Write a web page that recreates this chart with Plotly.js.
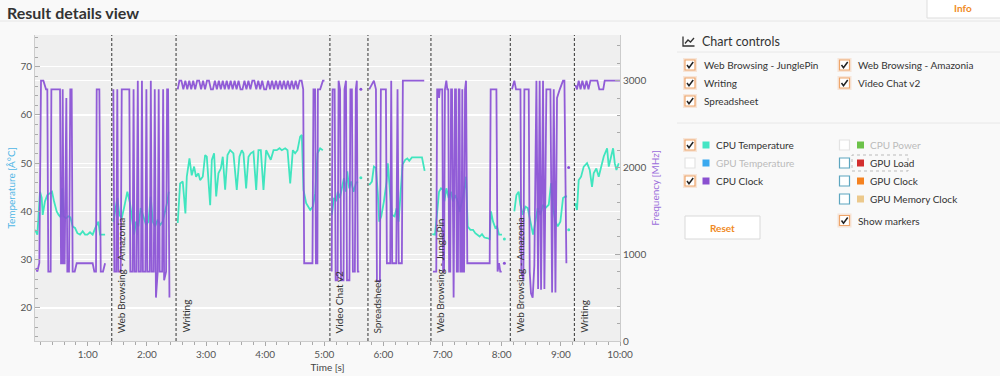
<!DOCTYPE html>
<html>
<head>
<meta charset="utf-8">
<script src="https://cdn.plot.ly/plotly-3.0.1.min.js"></script>
<style>
  html, body { margin: 0; padding: 0; background: #f9f9f9; }
  #chart { width: 1000px; height: 376px; }
</style>
</head>
<body>
<div id="chart"></div>
<script>
// ---------------- DATA (seconds, °C, MHz) ----------------
const xTickVals = [60, 120, 180, 240, 300, 360, 420, 480, 540, 600];
const xTickText = ['1:00', '2:00', '3:00', '4:00', '5:00', '6:00', '7:00', '8:00', '9:00', '10:00'];

const eventNames = ['Web Browsing - Amazonia', 'Writing', 'Video Chat v2', 'Spreadsheet',
                    'Web Browsing - JunglePin', 'Web Browsing - Amazonia', 'Writing'];
const eventTimes = [84.4, 149.6, 305.7, 344.3, 408.2, 488.7, 553.7];

// Web Browsing - JunglePin (1)
const jp1TempT = [6.5,8.9,11.6,13.3,14.3,16.6,19.0,21.7,23.8,25.8,28.5,30.5,32.5,34.2,35.3,38.0,40.3,42.4,44.7,47.1,49.5,52.2,54.9,57.3,59.6,62.3,65.0,67.7,70.8,72.5,77.6];
const jp1Temp  = [36.2,35.2,44.1,42.8,39.3,42.1,43.4,43.8,44.1,42.1,40.0,39.3,38.8,44.8,39.0,38.6,39.0,38.8,36.9,36.6,35.5,35.2,35.9,35.2,35.2,35.7,35.2,36.6,37.9,35.2,35.2];
const jp1ClockT = [7.5,8.9,10.9,12.6,15.0,16.3,17.7,19.0,20.0,22.4,23.1,31.9,32.9,33.9,34.6,35.6,36.6,38.3,39.3,41.0,42.3,43.7,44.7,46.8,48.8,65.0,66.7,68.4,69.1,71.8,73.2,75.5,77.6];
const jp1Clock  = [840,800,900,3000,3000,2950,2900,2900,800,800,2900,2900,896,896,2900,896,896,2800,800,800,2900,2900,800,800,896,896,800,800,2900,2900,800,800,896];

// Web Browsing - Amazonia (1)
const am1TempT = [86.0,88.0,90.1,92.1,94.5,96.8,100.2,102.9,105.6,107.0,109.0,111.4,113.8,116.5,119.2,121.6,123.9,125.9,128.3,131.0,133.4,136.1,138.5,140.8,142.2];
const am1Temp  = [37.9,40.7,42.8,39.3,38.6,40.7,44.1,41.7,37.9,35.2,37.9,36.9,40.7,39.0,37.2,37.9,43.1,37.9,36.9,38.3,37.2,37.9,40.0,42.1,44.1];
const am1ClockT = [86.0,87.0,89.0,90.0,91.0,93.5,94.5,102.2,103.2,105.5,106.5,107.5,109.5,110.8,111.8,114.0,115.0,116.0,118.5,119.5,120.5,123.0,124.0,125.0,127.0,128.0,129.2,131.0,132.0,133.0,135.5,136.5,137.5,139.5,140.5,141.5,142.9];
const am1Clock  = [2900,800,800,2900,800,800,2900,2900,800,800,2900,800,800,3000,800,800,3000,800,800,2900,800,800,3000,800,800,2900,500,800,2900,800,800,2900,700,800,2900,2900,500];

// Writing (1)
const wr1TempT = [151.3,153.7,156.4,159.1,160.5,163.2,165.5,167.9,169.9,172.3,174.0,176.7,179.1,180.8,184.2,185.9,188.2,190.3,192.6,195.0,197.0,199.4,201.8,204.5,207.8,211.2,213.9,216.3,218.0,220.7,223.1,225.4,228.1,230.9,233.2,235.6,238.3,241.0,243.4,245.7,248.5,251.8,254.6,256.9,260.3,262.7,265.4,268.1,270.4,272.8,275.5,277.2,278.9,281.6,285.7,288.4,290.8,293.1,295.8,298.5];
const wr1Temp  = [37.6,45.8,46.2,39.6,47.2,51.0,47.5,49.3,47.2,47.9,46.5,47.2,51.7,51.35,41.3,50.7,52.05,43.1,47.9,48.9,51.35,44.5,51.7,52.7,52.05,44.45,51.35,52.7,52.05,44.8,51.35,52.05,52.4,44.45,52.7,52.7,44.45,52.7,51.7,50.7,52.7,52.7,53.1,52.7,53.1,52.7,45.8,52.7,52.05,52.7,55.5,55.85,44.45,41.7,40.3,41.0,43.8,52.05,53.1,52.7];
const wr1ClockT = [151.3,153,155,157,159,161,163,165,167,169,171,173,175,177,179,181,183,185,187,189,191,193,195,197,199,201,203,205,207,209,211,213,215,217,219,221,223,225,227,229,231,233,235,237,239,241,243,245,247,249,251,253,255,257,259,261,263,265,267,269,271,273,275,277,278.6,279.6,288.0,289.0,290.7,291.5,293.0,293.5,295.8,298.6,300.2];
const wr1Clock  = [2900,3000,3000,2900,3000,2900,3000,2900,3000,2900,3000,3000,2900,3000,2900,3000,3000,2900,2900,3000,2900,3000,2900,3000,2900,3000,2900,3000,2900,3000,2900,3000,2900,2900,3000,2900,3000,2900,3000,3000,2900,3000,2900,3000,2900,2900,3000,2900,3000,2900,3000,2900,3000,2900,3000,2900,3000,2900,3000,2900,3000,2900,3000,3000,2900,896,896,2900,2900,896,896,2900,2900,3000,3000];

// Video Chat v2
const vcTempT = [307.7,309.7,311.8,313.8,315.8,317.8,319.9,321.9,323.3,325.3,327.3,329.7,332.1,334.1,335.6,337.1];
const vcTemp  = [39.3,42.8,42.1,44.1,42.8,45.2,46.9,44.1,48.3,44.8,46.2,44.1,45.9,46.2,null,47.0];
const vcClockT = [307.5,308.4,310.5,311.5,313.5,314.5,316.0,317.0,319.5,320.5,322.0,323.0,325.5,326.5,328.0,329.0,331.0,332.0,333.0,334.0,335.5,336.3,337.1];
const vcClock  = [800,2900,2900,700,700,3000,2900,700,700,2900,3000,700,700,2900,2900,800,800,2900,3000,800,800,null,2900];

// Spreadsheet
const ssTempT = [345.6,348.3,350.3,352.4,354.4,355.7,357.8,360.5,363.2,364.5,366.6,368.6,371.3,373.3,375.4,377.4,379.4,382.1,384.2,386.2,388.9,394.0,399.1,401.8];
const ssTemp  = [45.5,46.2,49.3,49.0,43.4,37.9,39.0,42.1,46.2,50.0,44.1,39.3,39.0,40.7,37.9,44.1,49.7,50.7,51.0,50.5,51.2,51.2,51.2,48.4];
const ssClockT = [345.6,348.3,350.3,352.4,353.4,356.4,357.4,362.5,363.5,366.9,367.9,368.9,373.0,374.3,375.5,378.7,379.7,401.4];
const ssClock  = [2900,2950,3000,2900,700,680,2900,2900,896,896,3000,896,896,2900,896,896,3000,3000];

// Web Browsing - JunglePin (2)
const jp2TempT = [409.6,412.3,414.3,416.4,418.4,420.4,421.8,423.8,426.2,428.5,430.6,432.9,435.3,437.3,439.7,441.7,443.8,445.5,448.2,450.9,453.2,455.6,457.6,460.0,462.4,465.1,467.8,469.1,471.2,473.5,475.2,477.3,480.3,481.5,482.7];
const jp2Temp  = [35.3,35.2,39.3,44.1,44.8,44.5,42.1,44.8,42.8,44.1,42.1,43.4,42.1,40.0,42.1,44.1,47.2,36.9,36.2,36.2,35.5,35.2,34.8,35.3,34.6,34.5,34.3,40.0,37.9,36.6,36.9,35.2,35.2,null,34.3];
const jp2ClockT = [410.3,413.6,414.5,415.8,416.4,417.2,419.7,420.5,421.5,422.4,423.8,424.8,425.8,426.6,427.8,428.6,429.6,431.2,432.6,433.6,434.4,435.6,436.4,437.2,438.0,439.2,440.0,440.8,441.8,442.8,443.8,445.1,467.8,468.8,474.6,475.8,477.3,478.5,480.0,481.5,482.7];
const jp2Clock  = [800,800,2900,2900,2800,2900,2900,800,800,2900,3000,2900,2900,800,800,2900,2900,500,2900,2900,800,800,2900,2900,800,800,2900,800,800,2900,3000,896,896,2900,2900,800,896,800,800,null,896];

// Web Browsing - Amazonia (2)
const am2TempT = [492.8,494.9,497.2,498.9,501.6,504.0,506.4,509.1,511.8,514.1,516.5,519.2,521.9,524.3,527.7,530.1,532.1,534.5,536.8,539.5,542.2,544.6,546.3,547.2,548.0];
const am2Temp  = [40.0,43.4,44.1,41.4,39.3,41.0,40.7,37.9,35.2,37.9,40.7,39.3,41.4,40.7,41.4,45.9,40.7,37.9,36.9,37.9,42.8,43.1,43.1,null,36.2];
const am2ClockT = [490.4,492.8,494.5,499.0,499.9,502.0,503.0,507.4,508.4,509.7,511.4,513.1,515.2,516.9,518.5,519.9,521.9,523.3,525.3,529.4,531.1,532.8,534.5,536.1,538.9,542.2,543.6,545.6,546.8,547.9];
const am2Clock  = [2900,3000,2900,2900,800,700,2900,2900,800,550,500,870,3000,600,3000,590,3000,600,2900,2900,560,2900,560,2800,2900,3000,3000,896,null,2000];

// Writing (2)
const wr2TempT = [554.7,556.4,558.1,560.5,563.2,566.6,569.3,571.6,573.3,576.0,578.4,581.8,583.5,586.9,588.6,591.0,593.0,594.7,596.4,598.7];
const wr2Temp  = [41.7,40.3,46.5,47.2,49.3,50.0,48.6,45.1,47.9,48.9,47.2,50.0,51.4,53.1,49.3,51.4,53.1,50.0,48.6,50.0];
const wr2ClockT = [554.7,556.4,558.1,560.0,561.8,564.0,566.0,568.0,570.0,572.0,574.0,577.0,579.0,583.0,584.5,600.0];
const wr2Clock  = [2950,2900,3000,2900,3000,2900,3000,2900,3000,3000,3000,3000,2900,2900,3000,3000];

// ---------------- BUILD ----------------
function joinSections(tArrs, vArrs) {
  const x = [], y = [];
  tArrs.forEach((ta, i) => {
    if (i > 0) { x.push(ta[0] - 1); y.push(null); }
    ta.forEach((t, j) => { x.push(t); y.push(vArrs[i][j]); });
  });
  return {x, y};
}
// single samples (no neighbours) are shown as markers
function isolated(s) {
  const x = [], y = [];
  s.y.forEach((v, i) => {
    if (v === null) return;
    const prev = i > 0 ? s.y[i - 1] : null, next = i < s.y.length - 1 ? s.y[i + 1] : null;
    if (prev === null && next === null) { x.push(s.x[i]); y.push(v); }
  });
  return {x, y};
}
const tempSeries = joinSections(
  [jp1TempT, am1TempT, wr1TempT, vcTempT, ssTempT, jp2TempT, am2TempT, wr2TempT],
  [jp1Temp, am1Temp, wr1Temp, vcTemp, ssTemp, jp2Temp, am2Temp, wr2Temp]);
const clockSeries = joinSections(
  [jp1ClockT, am1ClockT, wr1ClockT, vcClockT, ssClockT, jp2ClockT, am2ClockT, wr2ClockT],
  [jp1Clock, am1Clock, wr1Clock, vcClock, ssClock, jp2Clock, am2Clock, wr2Clock]);
const tempDots = isolated(tempSeries), clockDots = isolated(clockSeries);

const TEMP_COLOR = '#40e5bf';
const CLOCK_COLOR = '#8a50d6';

const traces = [
  { x: tempSeries.x, y: tempSeries.y, type: 'scatter', mode: 'lines', name: 'CPU Temperature',
    line: { color: TEMP_COLOR, width: 1.8 }, connectgaps: false, yaxis: 'y' },
  { x: tempDots.x, y: tempDots.y, type: 'scatter', mode: 'markers', name: 'CPU Temperature',
    marker: { size: 3, color: TEMP_COLOR }, yaxis: 'y' },
  { x: clockSeries.x, y: clockSeries.y, type: 'scatter', mode: 'lines', name: 'CPU Clock',
    line: { color: CLOCK_COLOR, width: 1.8 }, connectgaps: false, yaxis: 'y2', opacity: 0.92 },
  { x: clockDots.x, y: clockDots.y, type: 'scatter', mode: 'markers', name: 'CPU Clock',
    marker: { size: 3, color: CLOCK_COLOR }, yaxis: 'y2' }
];

// pixel -> paper helpers
const L = 35, R = 620, T = 35, B = 341;
const px = x => (x - L) / (R - L);
const py = y => (B - y) / (B - T);

const shapes = [];
const annotations = [];

// event lines + labels
eventTimes.forEach((t, i) => {
  shapes.push({ type: 'line', xref: 'x', yref: 'paper', x0: t, x1: t, y0: 0, y1: 1,
    line: { color: '#333', width: 1, dash: '3px,2px' }, layer: 'above' });
  annotations.push({ x: t, xref: 'x', y: 0, yref: 'paper', text: eventNames[i], textangle: -90,
    xanchor: 'left', yanchor: 'bottom', xshift: 1, yshift: 6, showarrow: false,
    font: { family: 'Lato, sans-serif', size: 10, color: '#333' } });
});

function label(x, y, text, opts = {}) {
  annotations.push({ xref: 'paper', yref: 'paper', x: px(x), y: py(y), text: text,
    xanchor: opts.anchor || 'left', yanchor: 'middle', showarrow: false,
    font: { family: 'Lato, sans-serif', size: opts.size || 10, color: opts.color || '#333' } });
}
function rectPx(x0, y0, x1, y1, fill, lineColor, lineWidth, dash) {
  shapes.push({ type: 'rect', xref: 'paper', yref: 'paper', x0: px(x0), x1: px(x1), y0: py(y1), y1: py(y0),
    fillcolor: fill, line: { color: lineColor || 'rgba(0,0,0,0)', width: lineWidth || 0, dash: dash || 'solid' }, layer: 'above' });
}
function linePx(x0, y0, x1, y1, color, width) {
  shapes.push({ type: 'line', xref: 'paper', yref: 'paper', x0: px(x0), x1: px(x1), y0: py(y0), y1: py(y1),
    line: { color: color, width: width || 1 }, layer: 'above' });
}
function checkbox(cx, cy, kind) {
  const s = 5;
  if (kind === 'on') rectPx(cx - s - 2, cy - s - 2, cx + s + 2, cy + s + 2, 'rgba(240,160,100,0.22)');
  const border = kind === 'on' ? '#eea56a' : (kind === 'blue' ? '#5da6c0' : '#e3e3e3');
  rectPx(cx - s, cy - s, cx + s, cy + s, '#ffffff', border, 1.2);
  if (kind === 'on') {
    shapes.push({ type: 'path', xref: 'paper', yref: 'paper', layer: 'above',
      path: `M ${px(cx - 3)} ${py(cy)} L ${px(cx - 1)} ${py(cy + 2.8)} L ${px(cx + 3.2)} ${py(cy - 3)}`,
      line: { color: '#222', width: 1.5 } });
  }
}

// header
label(5, 12, '<b>Result details view</b>', { size: 16, color: '#333' });
linePx(0, 21, 1000, 21, '#e6e6e6', 1);
rectPx(927, -2, 1002, 18, '#ffffff', '#dddddd', 1);
label(962.5, 7.5, '<b>Info</b>', { size: 10, color: '#f08a24', anchor: 'center' });

// chart controls
shapes.push({ type: 'path', xref: 'paper', yref: 'paper', layer: 'above',
  path: `M ${px(683)} ${py(36.5)} L ${px(683)} ${py(46)} L ${px(694.5)} ${py(46)}`, line: { color: '#333', width: 1.3 } });
shapes.push({ type: 'path', xref: 'paper', yref: 'paper', layer: 'above',
  path: `M ${px(685)} ${py(43.5)} L ${px(688)} ${py(40)} L ${px(690.5)} ${py(42)} L ${px(694)} ${py(38)}`, line: { color: '#333', width: 1.3 } });
label(700, 41.5, 'Chart controls', { size: 12.5, color: '#333' });
linePx(677, 52, 1000, 52, '#e8e8e8', 1);

const workloadRows = [
  [690, 65, 'Web Browsing - JunglePin'], [690, 83, 'Writing'], [690, 101, 'Spreadsheet'],
  [844.5, 65, 'Web Browsing - Amazonia'], [844.5, 83, 'Video Chat v2']
];
workloadRows.forEach(r => { checkbox(r[0], r[1], 'on'); label(r[0] + 12, r[1], r[2]); });
linePx(677, 123, 1000, 123, '#e8e8e8', 1);

const seriesRows = [
  [690, 145, 'on', '#44e5c4', 'CPU Temperature', '#333'],
  [690, 163, 'off', '#3aa9ef', 'GPU Temperature', '#bbbbbb'],
  [690, 181, 'on', '#8a50d0', 'CPU Clock', '#333'],
  [844.5, 145, 'off', '#6cc24a', 'CPU Power', '#bbbbbb'],
  [844.5, 163, 'blue', '#d32f2f', 'GPU Load', '#333'],
  [844.5, 181, 'blue', '#f58220', 'GPU Clock', '#333'],
  [844.5, 199, 'blue', '#ecc98c', 'GPU Memory Clock', '#333']
];
seriesRows.forEach(r => {
  checkbox(r[0], r[1], r[2]);
  rectPx(r[0] + 12.5, r[1] - 3.5, r[0] + 19.5, r[1] + 3.5, r[3]);
  label(r[0] + 23.5, r[1], r[4], { color: r[5] });
});
rectPx(852, 155, 908, 171, 'rgba(0,0,0,0)', '#bbbbbb', 1, 'dot');
checkbox(844.5, 220.5, 'on');
label(856.5, 220.5, 'Show markers');
rectPx(685, 216, 760, 239, '#ffffff', '#d9d9d9', 1);
label(722.5, 227.5, '<b>Reset</b>', { size: 10, color: '#f08a24', anchor: 'center' });

const axisFont = { family: 'Lato, sans-serif', size: 10, color: '#555' };

const layout = {
  width: 1000, height: 376,
  margin: { l: 35, r: 380, t: 35, b: 35 },
  paper_bgcolor: '#f9f9f9', plot_bgcolor: '#efefef',
  showlegend: false, hovermode: false,
  font: { family: 'Lato, sans-serif', size: 10, color: '#555' },
  xaxis: {
    range: [6.5, 600], tickmode: 'array', tickvals: xTickVals, ticktext: xTickText,
    ticks: 'outside', ticklen: 4, tickcolor: '#aaa', tickfont: axisFont,
    minor: { tickmode: 'linear', tick0: 0, dtick: 12, ticks: 'outside', ticklen: 3, tickcolor: '#aaa', showgrid: false },
    showgrid: false, zeroline: false, showline: true, linecolor: '#cccccc', linewidth: 1,
    title: { text: 'Time [s]', font: { family: 'Lato, sans-serif', size: 10, color: '#444' }, standoff: 4 }
  },
  yaxis: {
    range: [13.16, 76.57], dtick: 10, tick0: 0,
    ticks: 'inside', ticklen: 5, tickcolor: '#aaa', tickfont: axisFont,
    minor: { dtick: 2, tick0: 0, ticks: 'inside', ticklen: 3, tickcolor: '#aaa', showgrid: false },
    showgrid: true, gridcolor: '#ffffff', gridwidth: 1.2, zeroline: false,
    showline: true, linecolor: '#cccccc', linewidth: 1,
    title: { text: 'Temperature [Â°C]', font: { family: 'Lato, sans-serif', size: 10, color: '#4fb6e6' }, standoff: 2 }
  },
  yaxis2: {
    range: [0, 3526], dtick: 1000, tick0: 0, overlaying: 'y', side: 'right',
    ticks: 'inside', ticklen: 5, tickcolor: '#aaa', tickfont: axisFont,
    minor: { dtick: 200, tick0: 0, ticks: 'inside', ticklen: 3, tickcolor: '#aaa', showgrid: false },
    showgrid: true, gridcolor: '#ffffff', gridwidth: 1.2, zeroline: false,
    showline: true, linecolor: '#cccccc', linewidth: 1,
    title: { text: 'Frequency [MHz]', font: { family: 'Lato, sans-serif', size: 10, color: '#9b6ddb' }, standoff: 6 }
  },
  shapes: shapes,
  annotations: annotations
};

Plotly.newPlot('chart', traces, layout, { staticPlot: true, displayModeBar: false });
</script>
</body>
</html>
